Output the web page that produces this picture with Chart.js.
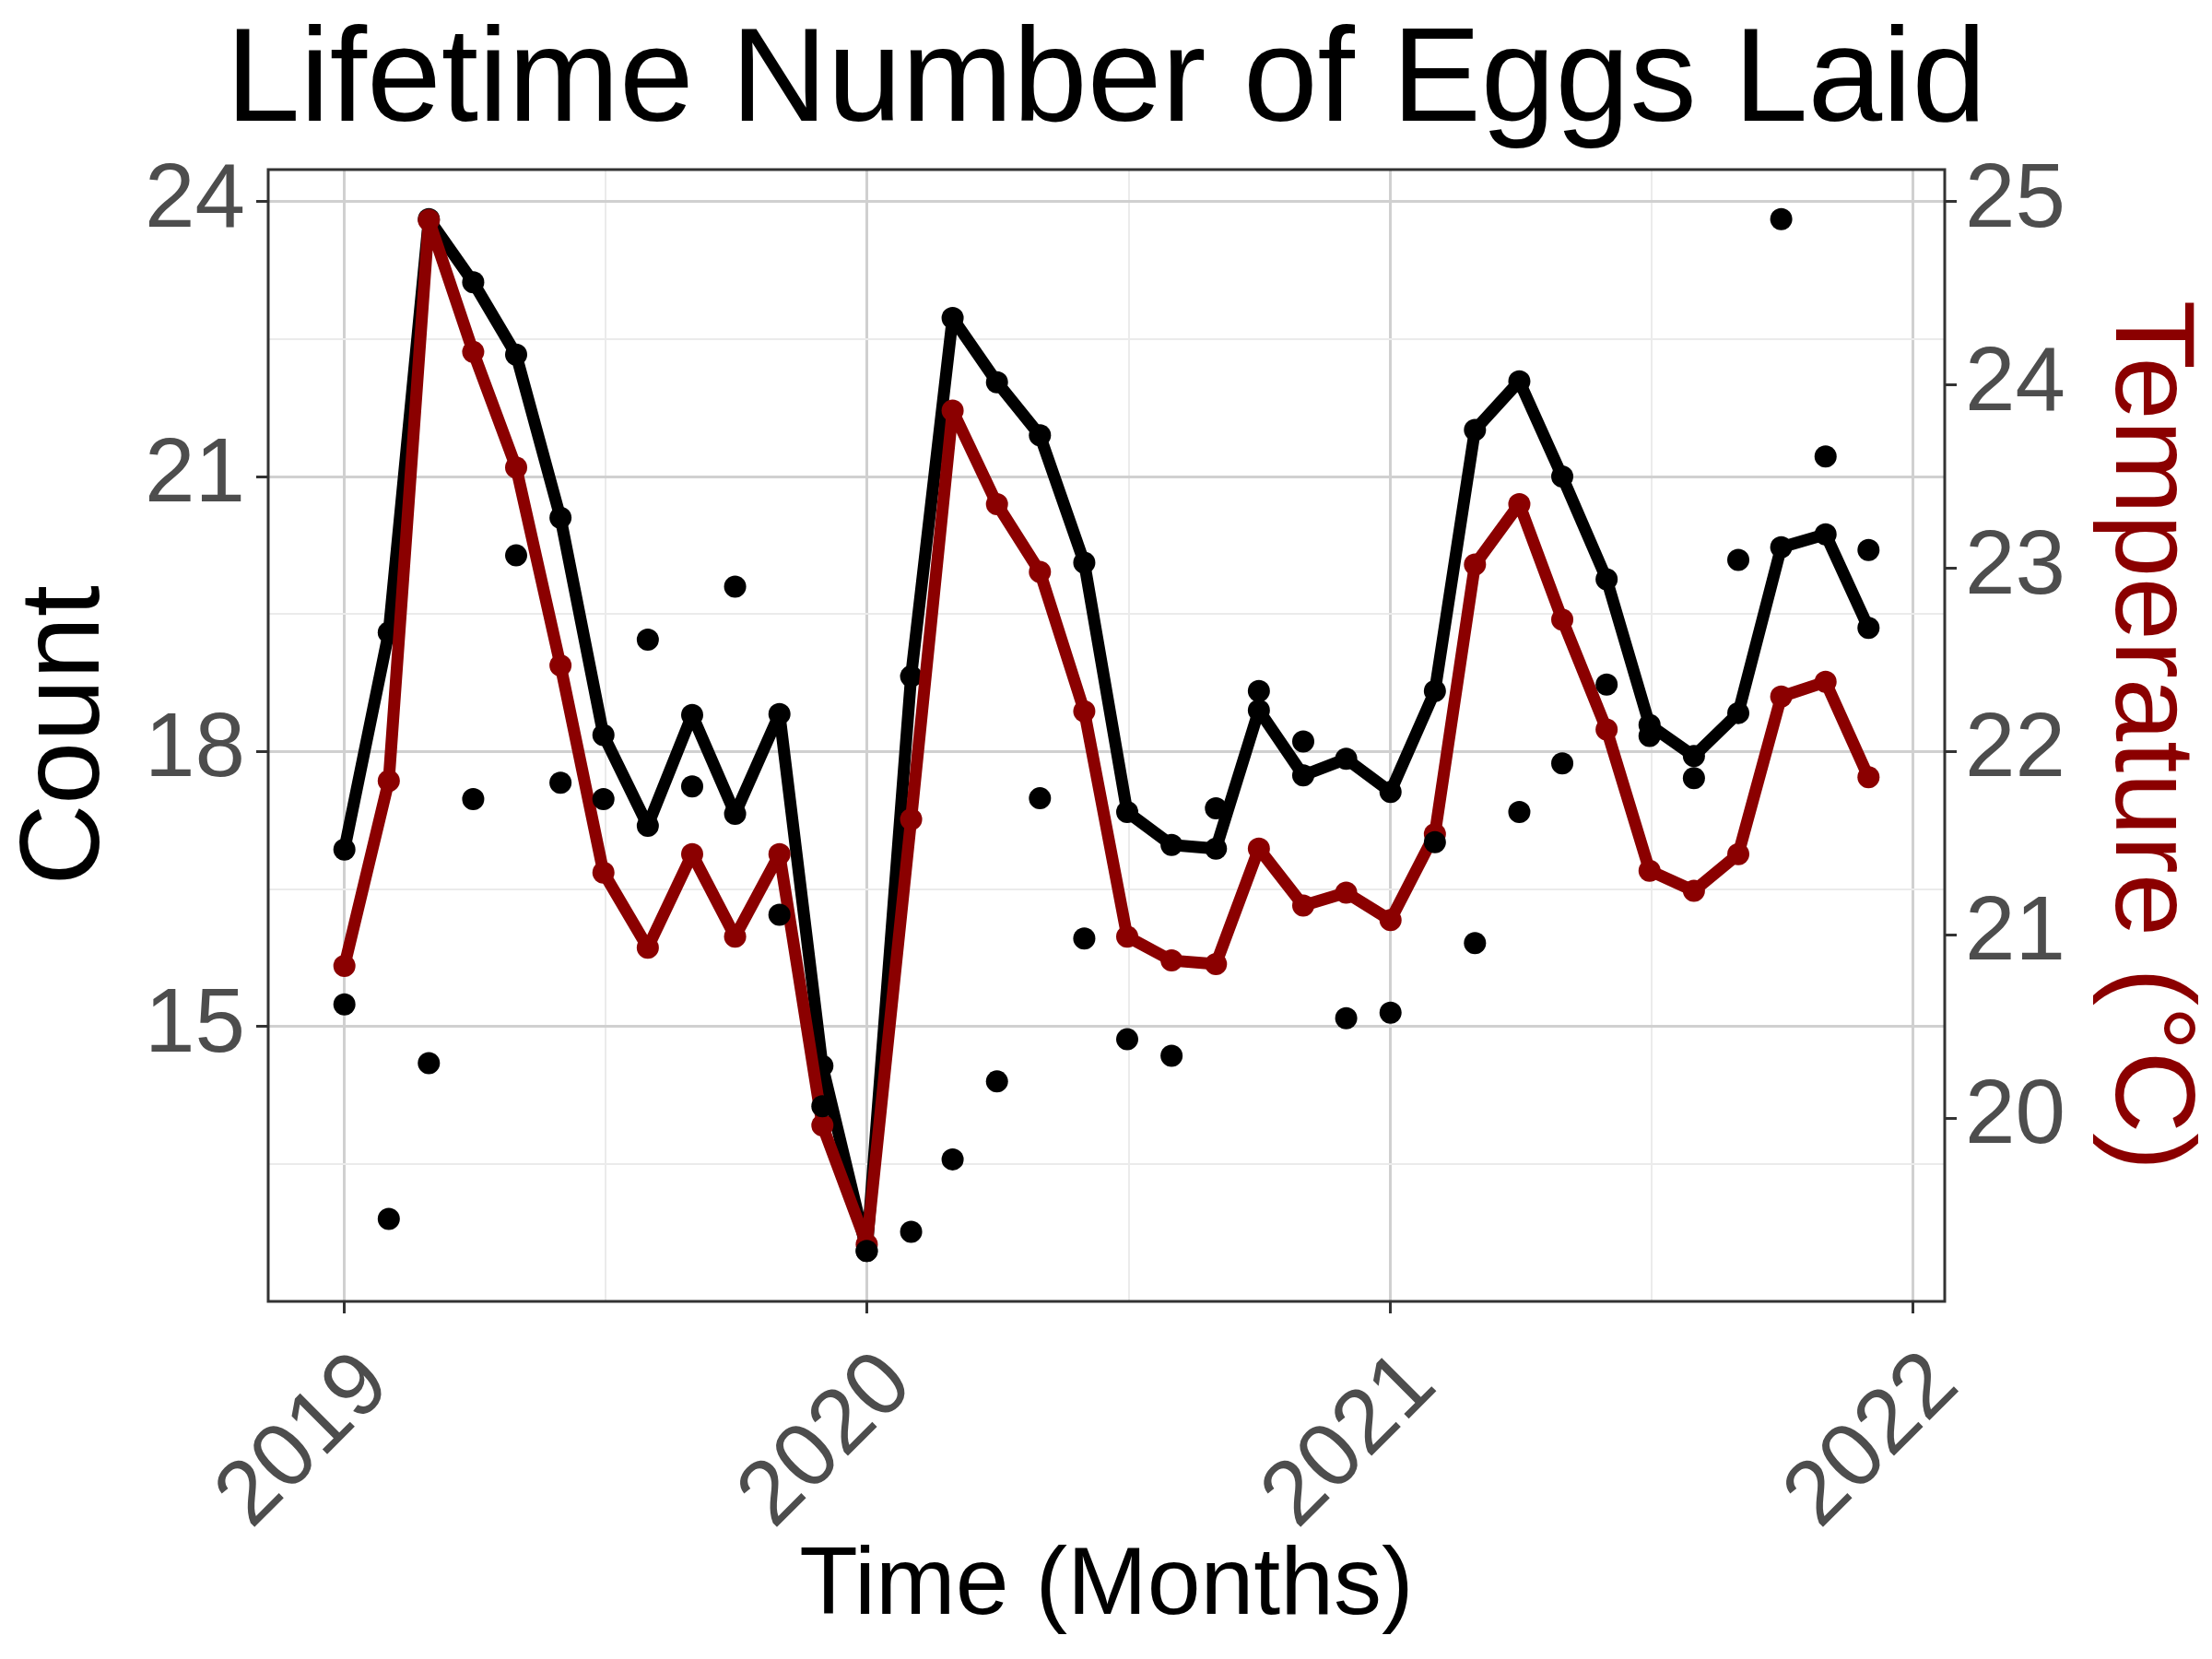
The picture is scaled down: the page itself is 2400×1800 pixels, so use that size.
<!DOCTYPE html>
<html>
<head>
<meta charset="utf-8">
<script src="https://cdn.jsdelivr.net/npm/chart.js@4/dist/chart.umd.min.js"></script>
<style>
  html, body { margin: 0; padding: 0; background: #ffffff; }
  #wrap { width: 2400px; height: 1800px; }
</style>
</head>
<body>
<div id="wrap"><canvas id="c" width="2400" height="1800"></canvas></div>
<script>
// ---- data ----
const months = [
  '2019-01','2019-02','2019-03','2019-04','2019-05','2019-06','2019-07','2019-08','2019-09','2019-10','2019-11','2019-12',
  '2020-01','2020-02','2020-03','2020-04','2020-05','2020-06','2020-07','2020-08','2020-09','2020-10','2020-11','2020-12',
  '2021-01','2021-02','2021-03','2021-04','2021-05','2021-06','2021-07','2021-08','2021-09','2021-10','2021-11','2021-12'
];
// black line (Count)
const countLine = [
  16.93, 19.30, 23.81, 23.12, 22.33, 20.55, 18.18, 17.19, 18.40, 17.32, 18.41, 14.57,
  12.55, 18.82, 22.73, 22.03, 21.45, 20.06, 17.34, 16.98, 16.94, 18.45, 17.74, 17.92,
  17.56, 18.66, 21.51, 22.04, 21.00, 19.88, 18.29, 17.95, 18.42, 20.23, 20.37, 19.35
];
// black scatter points (observed count)
const countPoints = [
  15.24, 12.90, 14.60, 17.48, 20.14, 17.66, 17.48, 19.22, 17.62, 19.80, 16.22, 14.13,
  12.55, 12.76, 13.55, 14.40, 17.49, 15.96, 14.86, 14.68, 17.38, 18.66, 18.11, 15.09,
  15.15, 17.01, 15.91, 17.34, 17.87, 18.73, 18.17, 17.71, 20.09, 23.81, 21.22, 20.20
];
// red line (Temperature, °C)
const temperature = [
  20.83, 21.84, 24.90, 24.18, 23.55, 22.47, 21.34, 20.93, 21.44, 20.99, 21.44, 19.96,
  19.31, 21.63, 23.86, 23.35, 22.98, 22.22, 20.99, 20.86, 20.84, 21.47, 21.16, 21.23,
  21.08, 21.55, 23.02, 23.35, 22.72, 22.12, 21.35, 21.24, 21.44, 22.30, 22.38, 21.86
];
const yearTicks = ['2019', '2020', '2021', '2022'];
const countTicksMajor = [15, 18, 21, 24];
const countTicksMinor = [13.5, 16.5, 19.5, 22.5];
const tempTicks = [20, 21, 22, 23, 24, 25];

// ---- helpers ----
const DAY = 86400000;
const ORIGIN = Date.UTC(2019, 0, 1);
function dayOf(ym) {
  const [y, m] = ym.split('-').map(Number);
  return (Date.UTC(y, m - 1, 1) - ORIGIN) / DAY;
}
const xs = months.map(dayOf);
const yearDays = yearTicks.map(y => dayOf(y + '-01'));
const yearMinor = [];
for (let i = 0; i < yearDays.length - 1; i++) yearMinor.push((yearDays[i] + yearDays[i + 1]) / 2);
const xMin = xs[0] - (xs[xs.length - 1] - xs[0]) * 0.05;
const xMax = xs[xs.length - 1] + (xs[xs.length - 1] - xs[0]) * 0.05;

const yMin = 12.0, yMax = 24.35;
// secondary axis: temperature = count / 2 + 13
const y2Min = yMin / 2 + 13, y2Max = yMax / 2 + 13;

const FONT = "'Liberation Sans', Arial, Helvetica, sans-serif";
Chart.defaults.font.family = FONT;

const MAJOR_GRID = '#D0D0D0', MINOR_GRID = '#EBEBEB', AXIS_DARK = '#333333', TICK_TEXT = '#4D4D4D';
const RED = '#8B0000';
const LINE_W = 13, PT_R = 12;

const isMajorX = v => yearDays.includes(v);
const isMajorY = v => countTicksMajor.includes(v);

const panelBorder = {
  id: 'panelBorder',
  afterDraw(chart) {
    const {ctx, chartArea: a} = chart;
    ctx.save();
    ctx.strokeStyle = AXIS_DARK;
    ctx.lineWidth = 3;
    ctx.strokeRect(a.left, a.top, a.right - a.left, a.bottom - a.top);
    ctx.restore();
  }
};

new Chart(document.getElementById('c'), {
  type: 'line',
  data: {
    datasets: [
      {
        label: 'Observed',
        data: xs.map((x, i) => ({x, y: countPoints[i]})),
        yAxisID: 'y',
        showLine: false,
        pointRadius: PT_R,
        pointBorderWidth: 0,
        pointBackgroundColor: '#000000',
        borderColor: '#000000',
        order: 0
      },
      {
        label: 'Temperature',
        data: xs.map((x, i) => ({x, y: temperature[i]})),
        yAxisID: 'y2',
        borderColor: RED,
        borderWidth: LINE_W,
        borderJoinStyle: 'round',
        pointRadius: PT_R,
        pointBorderWidth: 0,
        pointBackgroundColor: RED,
        tension: 0,
        order: 1
      },
      {
        label: 'Count',
        data: xs.map((x, i) => ({x, y: countLine[i]})),
        yAxisID: 'y',
        borderColor: '#000000',
        borderWidth: LINE_W,
        borderJoinStyle: 'round',
        pointRadius: PT_R,
        pointBorderWidth: 0,
        pointBackgroundColor: '#000000',
        tension: 0,
        order: 2
      }
    ]
  },
  options: {
    responsive: false,
    animation: false,
    devicePixelRatio: 1,
    layout: { padding: 0 },
    plugins: {
      legend: { display: false },
      tooltip: { enabled: false },
      title: {
        display: true,
        text: 'Lifetime Number of Eggs Laid',
        color: '#000000',
        font: { family: FONT, size: 145, weight: 'normal', lineHeight: 1 },
        padding: { top: 19, bottom: 20 }
      }
    },
    scales: {
      x: {
        type: 'linear',
        min: xMin,
        max: xMax,
        afterBuildTicks: s => { s.ticks = yearDays.concat(yearMinor).sort((a, b) => a - b).map(v => ({value: v})); },
        afterFit: s => { s.height = 388; },
        border: { display: false },
        grid: {
          color: c => isMajorX(c.tick.value) ? MAJOR_GRID : MINOR_GRID,
          lineWidth: c => isMajorX(c.tick.value) ? 3 : 2,
          tickColor: c => isMajorX(c.tick.value) ? AXIS_DARK : 'rgba(0,0,0,0)',
          tickWidth: 3,
          tickLength: 13
        },
        ticks: {
          autoSkip: false,
          minRotation: 45,
          maxRotation: 45,
          padding: 12,
          labelOffset: 34,
          color: TICK_TEXT,
          font: { size: 98, lineHeight: 1.44 },
          callback: v => { const i = yearDays.indexOf(v); return i >= 0 ? yearTicks[i] : ''; }
        },
        title: {
          display: true,
          text: 'Time (Months)',
          color: '#000000',
          font: { size: 104, lineHeight: 1 },
          padding: { top: 0, bottom: 26 }
        }
      },
      y: {
        type: 'linear',
        position: 'left',
        min: yMin,
        max: yMax,
        afterBuildTicks: s => { s.ticks = countTicksMinor.concat(countTicksMajor).sort((a, b) => a - b).map(v => ({value: v})); },
        afterFit: s => { s.width = 291; },
        border: { display: false },
        grid: {
          color: c => isMajorY(c.tick.value) ? MAJOR_GRID : MINOR_GRID,
          lineWidth: c => isMajorY(c.tick.value) ? 3 : 2,
          tickColor: c => isMajorY(c.tick.value) ? AXIS_DARK : 'rgba(0,0,0,0)',
          tickWidth: 3,
          tickLength: 13
        },
        ticks: {
          padding: 12,
          color: TICK_TEXT,
          font: { size: 98 },
          callback: v => isMajorY(v) ? String(v) : ''
        },
        title: {
          display: true,
          text: 'Count',
          color: '#000000',
          font: { size: 122, lineHeight: 1 },
          padding: { top: 12, bottom: 0 }
        }
      },
      y2: {
        type: 'linear',
        position: 'right',
        min: y2Min,
        max: y2Max,
        afterBuildTicks: s => { s.ticks = tempTicks.map(v => ({value: v})); },
        afterFit: s => { s.width = 290; },
        border: { display: false },
        grid: {
          drawOnChartArea: false,
          tickColor: AXIS_DARK,
          tickWidth: 3,
          tickLength: 13
        },
        ticks: {
          padding: 9,
          color: TICK_TEXT,
          font: { size: 98 },
          callback: v => String(v)
        },
        title: {
          display: true,
          text: 'Temperature (°C)',
          color: RED,
          font: { size: 123, lineHeight: 1 },
          padding: { top: 9, bottom: 0 }
        }
      }
    }
  },
  plugins: [panelBorder]
});
</script>
</body>
</html>
